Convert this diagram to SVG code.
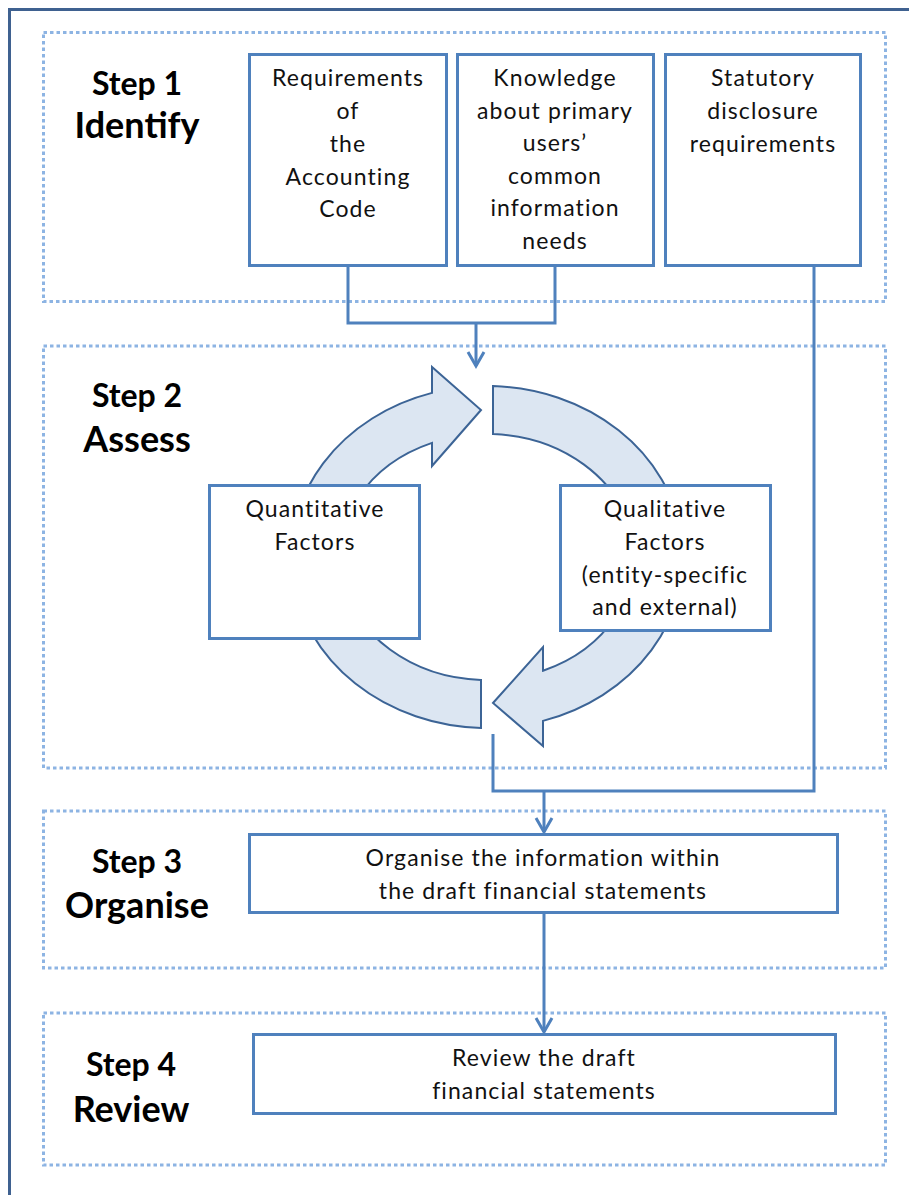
<svg xmlns="http://www.w3.org/2000/svg" width="909" height="1195" viewBox="0 0 909 1195">
<style>
.frame{fill:none;stroke:#3f6190;stroke-width:3}
.step{fill:none;stroke:#8db4e3;stroke-width:3;stroke-dasharray:3.5 3}
.box{fill:#ffffff;stroke:#4f81bd;stroke-width:3}
.conn{fill:none;stroke:#4f81bd;stroke-width:3}
.cyc{fill:#dce6f2;stroke:#3c6496;stroke-width:2;stroke-linejoin:miter}
.title{font-family:Lato,"Liberation Sans",sans-serif;font-weight:bold;fill:#000;text-anchor:middle}
.t{font-family:Lato,"Liberation Sans",sans-serif;font-size:23px;fill:#111;text-anchor:middle;letter-spacing:1.1px}
</style>
<defs>
<marker id="ah" markerUnits="userSpaceOnUse" markerWidth="30" markerHeight="30" viewBox="-20 -15 30 30" refX="0" refY="0" orient="auto">
<path d="M-14,-8 L0,0 L-14,8" fill="none" stroke="#4f81bd" stroke-width="3"/>
</marker>
</defs>
<path class="frame" d="M9.5,1200 V9.5 H915"/>
<g id="step1">
<rect class="step" x="43.5" y="32.5" width="842" height="269"/>
<text class="title" x="137" y="95" font-size="32">Step 1</text>
<text class="title" x="137" y="138" font-size="36">Identify</text>
</g>
<g id="step2">
<rect class="step" x="43.5" y="346" width="842" height="422"/>
<text class="title" x="137" y="407" font-size="32">Step 2</text>
<text class="title" x="137" y="452" font-size="36">Assess</text>
</g>
<g id="step3">
<rect class="step" x="43.5" y="811" width="842" height="157"/>
<text class="title" x="137" y="873" font-size="32">Step 3</text>
<text class="title" x="137" y="918" font-size="36">Organise</text>
</g>
<g id="step4">
<rect class="step" x="43.5" y="1013" width="842" height="152"/>
<text class="title" x="131" y="1076" font-size="32">Step 4</text>
<text class="title" x="131" y="1122" font-size="36">Review</text>
</g>
<g id="connectors">
<path class="conn" d="M348,265 V323 H555 V265"/>
<path class="conn" d="M476,323 V366" marker-end="url(#ah)"/>
<path class="conn" d="M814,265 V791 H493 V734"/>
<path class="conn" d="M544,791 V832" marker-end="url(#ah)"/>
<path class="conn" d="M544,913 V1032" marker-end="url(#ah)"/>
</g>
<g id="cycle">
<path class="cyc" d="M481,727.9 A196,171 0 0 1 432,392.9 L432,367 L481,410 L432,466 L432,442.9 A147,123 0 0 0 481,679.9 Z"/>
<path class="cyc" d="M493,386.1 A196,171 0 0 1 543,720.9 L543,746 L493,703 L543,647 L543,670.7 A147,123 0 0 0 493,434.1 Z"/>
</g>
<g id="req">
<rect class="box" x="249.5" y="54.5" width="197" height="211"/>
<text class="t" x="348" y="86">Requirements</text>
<text class="t" x="348" y="119">of</text>
<text class="t" x="348" y="152">the</text>
<text class="t" x="348" y="185">Accounting</text>
<text class="t" x="348" y="217">Code</text>
</g>
<g id="knowledge">
<rect class="box" x="457.5" y="54.5" width="196" height="211"/>
<text class="t" x="555" y="86">Knowledge</text>
<text class="t" x="555" y="119">about primary</text>
<text class="t" x="555" y="151">users’</text>
<text class="t" x="555" y="184">common</text>
<text class="t" x="555" y="216">information</text>
<text class="t" x="555" y="249">needs</text>
</g>
<g id="statutory">
<rect class="box" x="665.5" y="54.5" width="195" height="211"/>
<text class="t" x="763" y="86">Statutory</text>
<text class="t" x="763" y="119">disclosure</text>
<text class="t" x="763" y="152">requirements</text>
</g>
<g id="quant">
<rect class="box" x="209.5" y="485.5" width="210" height="153"/>
<text class="t" x="315" y="517">Quantitative</text>
<text class="t" x="315" y="550">Factors</text>
</g>
<g id="qual">
<rect class="box" x="560.5" y="485.5" width="210" height="145"/>
<text class="t" x="665" y="517">Qualitative</text>
<text class="t" x="665" y="550">Factors</text>
<text class="t" x="665" y="583">(entity-specific</text>
<text class="t" x="665" y="615">and external)</text>
</g>
<g id="organise">
<rect class="box" x="249.5" y="834.5" width="588" height="78"/>
<text class="t" x="543" y="866">Organise the information within</text>
<text class="t" x="543" y="899">the draft financial statements</text>
</g>
<g id="review">
<rect class="box" x="253.5" y="1034.5" width="582" height="79"/>
<text class="t" x="544" y="1066">Review the draft</text>
<text class="t" x="544" y="1099">financial statements</text>
</g>
</svg>
